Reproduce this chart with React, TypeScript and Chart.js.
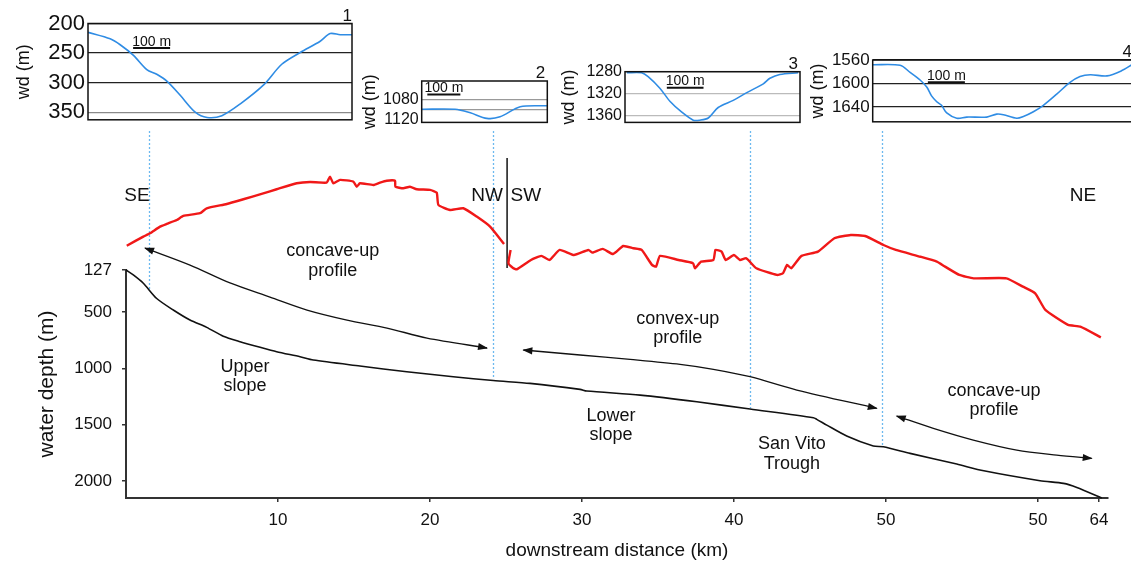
import React, { useEffect, useRef } from "react";
import { Chart, registerables } from "chart.js";
Chart.register(...registerables);

const FONT = "'Liberation Sans', Arial, Helvetica, sans-serif";
Chart.defaults.font.family = FONT;

// ---------- main long profile (km, water depth m) ----------
const profileKm = [0, 0.48, 1.14, 2.02, 3.11, 4.21, 5.31, 6.4, 7.5, 8.82, 9.91, 11.45, 12.32, 15.39, 18.47, 21.53, 24.16, 26.58, 29.87, 30.31, 33.82, 37.55, 41.05, 45.22, 45.44, 46.1, 47.41, 49.16, 49.82, 51.58, 54.65, 56.43, 60.13, 61.67, 62.55, 64.19];
const profileDepth = [127, 171, 245, 380, 482, 571, 636, 715, 763, 813, 852, 897, 926, 979, 1030, 1074, 1108, 1133, 1186, 1201, 1237, 1296, 1361, 1438, 1452, 1503, 1600, 1689, 1696, 1754, 1849, 1909, 1997, 2020, 2056, 2150];

// ---------- red planform line (relative units) ----------
const redNwKm = [0.05, 1.14, 1.58, 2.24, 2.68, 3.34, 3.77, 4.87, 5.31, 6.63, 7.72, 9.03, 9.91, 11.23, 12.11, 13.2, 13.42, 13.64, 14.08, 14.95, 15.18, 15.39, 16.27, 16.71, 17.15, 17.7, 17.72, 18.24, 18.68, 19.13, 20.0, 20.44, 20.55, 21.32, 22.19, 23.07, 23.95, 24.87];
const redNwVal = [58.4, 63.7, 65.7, 69.6, 71.2, 73.5, 75.9, 77.5, 80.4, 82.9, 85.7, 89.2, 91.6, 95.1, 95.9, 95.5, 99.0, 95.1, 97.1, 96.1, 93.1, 95.1, 94.1, 95.5, 96.6, 96.6, 93.1, 92.2, 93.1, 91.6, 91.2, 89.6, 82.4, 79.4, 80.4, 75.5, 69.6, 59.4];
const redSwKm = [25.3, 25.16, 25.46, 25.7, 26.64, 27.32, 27.86, 28.53, 29.47, 30.42, 30.69, 31.36, 32.04, 32.71, 33.38, 33.92, 34.6, 34.87, 35.13, 36.35, 37.3, 37.43, 37.83, 38.64, 38.78, 39.18, 39.45, 39.99, 40.39, 40.8, 41.47, 42.82, 43.22, 43.49, 43.76, 44.44, 45.52, 46.6, 47.68, 48.62, 49.83, 50.64, 52.26, 53.34, 53.88, 54.82, 55.76, 57.92, 59.0, 59.81, 60.48, 61.97, 62.78, 64.13];
const redSwVal = [55.9, 48.1, 45.3, 44.5, 50.0, 52.4, 50.0, 55.9, 52.9, 55.9, 54.3, 56.5, 53.5, 58.2, 56.9, 55.9, 47.1, 46.1, 52.4, 50.0, 48.1, 45.1, 49.0, 50.0, 55.9, 54.9, 50.0, 52.9, 50.0, 51.0, 45.1, 41.2, 42.2, 47.1, 45.1, 52.4, 54.9, 62.8, 64.7, 64.1, 58.8, 55.9, 51.9, 49.0, 46.1, 41.2, 39.2, 39.2, 34.3, 30.4, 20.6, 11.8, 10.8, 4.5];
const separatorKm = [25.07, 25.07];
const separatorVal = [110, 45.3];

// ---------- arrows (km, depth) ----------
const arrow1Km = [1.25, 4.21, 6.84, 9.47, 11.91, 14.54, 17.17, 19.8, 23.75];
const arrow1Depth = [-68, 83, 242, 367, 482, 571, 642, 731, 819];
const arrow2Km = [26.14, 29.87, 33.16, 36.45, 38.64, 41.05, 44.13, 49.39];
const arrow2Depth = [837, 881, 920, 964, 1008, 1074, 1192, 1355];
const arrow3Km = [50.7, 53.11, 55.74, 58.6, 61.23, 63.53];
const arrow3Depth = [1423, 1532, 1636, 1725, 1769, 1798];

// ---------- axis ticks ----------
const xTickValues = [10, 20, 30, 40, 50, 60, 64];
const xTickLabels = ["10", "20", "30", "40", "50", "50", "64"];
const yTickValues = [127, 500, 1000, 1500, 2000];

// ---------- cross-section locations ----------
const sectionKm = [1.5, 24.15, 41.05, 49.75];
const sectionDepth = [304, 1085, 1352, 1698];

// ---------- annotations ----------
const noteLines = [["concave-up", "profile"], ["Upper", "slope"], ["convex-up", "profile"], ["Lower", "slope"], ["San Vito", "Trough"], ["concave-up", "profile"]];
const noteKm = [13.6, 7.83, 36.3, 31.9, 43.8, 57.1];
const noteDepth = [47, 1072, 646, 1507, 1760, 1285];
const compassLabels = ["SE", "NW", "SW", "NE"];
const compassKm = [0.72, 23.75, 26.3, 62.96];
const compassVal = 88;

// ---------- insets: cross-channel profiles (m across, wd m) ----------
const ins1X = [0, 60, 87, 123, 159, 186, 214, 250, 290, 322, 362, 412, 475, 524, 574, 628, 655, 682, 714];
const ins1Wd = [215, 226, 236, 254, 278, 286, 298, 322, 350, 359, 356, 336, 304, 269, 249, 230, 217, 219, 219];
const ins1Ticks = [200, 250, 300, 350];
const ins1Labels = ["200", "250", "300", "350"];

const ins2X = [0, 101, 147, 197, 237, 298, 379];
const ins2Wd = [1099, 1099, 1106, 1117, 1114, 1094, 1092];
const ins2Ticks = [1080, 1100, 1120];
const ins2Labels = ["1080", "", "1120"];

const ins3X = [5, 45, 63, 95, 123, 154, 186, 204, 227, 254, 295, 332, 377, 395, 422, 472];
const ins3Wd = [1282, 1282, 1289, 1310, 1334, 1353, 1368, 1368, 1364, 1345, 1332, 1318, 1302, 1292, 1285, 1282];
const ins3Ticks = [1280, 1320, 1360];
const ins3Labels = ["1280", "1320", "1360"];

const ins4X = [0, 74, 101, 128, 146, 159, 173, 186, 200, 227, 254, 308, 335, 353, 389, 407, 434, 461, 497, 533, 560, 588, 633, 673, 700];
const ins4Wd = [1568, 1569, 1581, 1594, 1606, 1621, 1631, 1637, 1650, 1659, 1657, 1657, 1652, 1653, 1659, 1656, 1648, 1637, 1618, 1598, 1588, 1585, 1587, 1578, 1568];
const ins4Ticks = [1560, 1600, 1640];
const ins4Labels = ["1560", "1600", "1640"];

const BLUE = "#2F8CE4";
const BLUE_DOT = "#6DB9EF";
const RED = "#F01818";
const SECTION_TOP = 131;

const INSETS = [
  { x: 0, y: 0, w: 362, h: 136, area: [88, 23.5, 352, 128.5], xMax: 714, yMin: 200, yMax: 363, ticks: ins1Ticks, labels: ins1Labels, grid: ["#222", "#222", "#222", "#8a8a8a"], font: 22, titleX: 24, num: "1", numDx: 0, barStart: 122, barY: 48, xs: ins1X, ys: ins1Wd },
  { x: 340, y: 60, w: 215, h: 75, area: [421.7, 81, 547.3, 128.3], xMax: 380, yMin: 1043, yMax: 1125, ticks: ins2Ticks, labels: ins2Labels, grid: ["#999", "#999", "rgba(0,0,0,0)"], font: 16, titleX: 370, num: "2", numDx: -2, barStart: 17, barY: 94.5, xs: ins2X, ys: ins2Wd },
  { x: 540, y: 40, w: 270, h: 95, area: [625, 71.7, 800, 129.3], xMax: 477, yMin: 1280, yMax: 1372, ticks: ins3Ticks, labels: ins3Labels, grid: ["#bbb", "#bbb", "#bbb"], font: 16, titleX: 569, num: "3", numDx: -2, barStart: 114, barY: 87.7, xs: ins3X, ys: ins3Wd },
  { x: 800, y: 40, w: 345, h: 95, area: [872.7, 60, 1140, 129.3], xMax: 722, yMin: 1560, yMax: 1665, ticks: ins4Ticks, labels: ins4Labels, grid: ["#222", "#222", "#222"], font: 17, titleX: 818, num: "4", numDx: -8, barStart: 149, barY: 82.3, xs: ins4X, ys: ins4Wd },
];

function pts(xs: number[], ys: number[]) {
  return xs.map((x, i) => ({ x, y: ys[i] }));
}

function arrowHead(ctx: CanvasRenderingContext2D, from: any, to: any) {
  const a = Math.atan2(to.y - from.y, to.x - from.x);
  const L = 9, W = 3.6;
  const c = Math.cos(a), s = Math.sin(a);
  ctx.beginPath();
  ctx.moveTo(to.x + c * 1, to.y + s * 1);
  ctx.lineTo(to.x - L * c + W * s, to.y - L * s - W * c);
  ctx.lineTo(to.x - L * c - W * s, to.y - L * s + W * c);
  ctx.closePath();
  ctx.fill();
}

function Inset({ spec }: { spec: any }) {
  const ref = useRef<HTMLCanvasElement | null>(null);
  useEffect(() => {
    const s = spec;
    const aL = s.area[0] - s.x, aT = s.area[1] - s.y, aR = s.area[2] - s.x, aB = s.area[3] - s.y;
    const decor = {
      id: "insetDecor",
      afterDraw(chart: any) {
        const { ctx, chartArea: a, scales } = chart;
        ctx.save();
        ctx.strokeStyle = "#111";
        ctx.lineWidth = 1.5;
        ctx.strokeRect(a.left, a.top, a.right - a.left, a.bottom - a.top);
        ctx.fillStyle = "#111";
        ctx.font = `17px ${FONT}`;
        ctx.textAlign = "right";
        ctx.textBaseline = "alphabetic";
        ctx.fillText(s.num, a.right + s.numDx, a.top - 3);
        const x0 = scales.x.getPixelForValue(s.barStart);
        const x1 = scales.x.getPixelForValue(s.barStart + 100);
        const by = s.barY - s.y;
        ctx.lineWidth = 2;
        ctx.beginPath();
        ctx.moveTo(x0, by);
        ctx.lineTo(x1, by);
        ctx.stroke();
        ctx.font = `14px ${FONT}`;
        ctx.textAlign = "center";
        ctx.fillText("100 m", (x0 + x1) / 2, by - 2.5);
        ctx.restore();
      },
    };
    const chart = new Chart(ref.current as HTMLCanvasElement, {
      type: "line",
      data: {
        datasets: [
          { data: pts(s.xs, s.ys), borderColor: BLUE, borderWidth: 1.6, pointRadius: 0, tension: 0.3, fill: false } as any,
        ],
      },
      options: {
        animation: false,
        responsive: false,
        events: [],
        layout: { padding: { left: 0, top: aT, right: s.w - aR, bottom: s.h - aB } },
        plugins: { legend: { display: false }, tooltip: { enabled: false } },
        scales: {
          x: { type: "linear", display: false, min: 0, max: s.xMax },
          y: {
            type: "linear",
            reverse: true,
            min: s.yMin,
            max: s.yMax,
            afterBuildTicks: (sc: any) => {
              sc.ticks = s.ticks.map((v: number) => ({ value: v }));
            },
            afterFit: (sc: any) => {
              sc.width = aL;
            },
            ticks: {
              callback: (_v: any, i: number) => s.labels[i],
              font: { family: FONT, size: s.font },
              color: "#111",
              padding: 3,
            },
            grid: {
              drawTicks: false,
              color: (ctx: any) => s.grid[ctx.index] || "#999",
              lineWidth: 1.2,
            },
            border: { display: false },
            title: {
              display: true,
              text: "wd (m)",
              color: "#111",
              font: { family: FONT, size: 18 },
              padding: { top: s.titleX - s.x - 10.8, bottom: 0 },
            },
          },
        },
      } as any,
      plugins: [decor],
    });
    return () => chart.destroy();
  }, [spec]);
  return (
    <canvas
      ref={ref}
      width={spec.w}
      height={spec.h}
      style={{ position: "absolute", left: spec.x, top: spec.y, width: spec.w, height: spec.h }}
    />
  );
}

function MainChart() {
  const ref = useRef<HTMLCanvasElement | null>(null);
  useEffect(() => {
    const decor = {
      id: "mainDecor",
      beforeDatasetsDraw(chart: any) {
        const { ctx, scales } = chart;
        ctx.save();
        ctx.strokeStyle = BLUE_DOT;
        ctx.lineWidth = 1.3;
        ctx.setLineDash([2, 2]);
        sectionKm.forEach((km, i) => {
          const px = Math.round(scales.x.getPixelForValue(km)) + 0.5;
          ctx.beginPath();
          ctx.moveTo(px, SECTION_TOP);
          ctx.lineTo(px, scales.y.getPixelForValue(sectionDepth[i]));
          ctx.stroke();
        });
        ctx.restore();
      },
      afterDatasetsDraw(chart: any) {
        const { ctx, scales } = chart;
        ctx.save();
        ctx.fillStyle = "#111";
        chart.data.datasets.forEach((ds: any, i: number) => {
          if (!ds.isArrow) return;
          const p = chart.getDatasetMeta(i).data;
          const n = p.length;
          arrowHead(ctx, p[1], p[0]);
          arrowHead(ctx, p[n - 2], p[n - 1]);
        });
        ctx.font = `18px ${FONT}`;
        ctx.textAlign = "center";
        ctx.textBaseline = "middle";
        noteLines.forEach((lines, i) => {
          const cx = scales.x.getPixelForValue(noteKm[i]);
          const cy = scales.y.getPixelForValue(noteDepth[i]);
          lines.forEach((t, j) => {
            ctx.fillText(t, cx, cy + (j - (lines.length - 1) / 2) * 19.5);
          });
        });
        ctx.font = `19px ${FONT}`;
        compassLabels.forEach((t, i) => {
          ctx.fillText(t, scales.x.getPixelForValue(compassKm[i]), scales.yRed.getPixelForValue(compassVal));
        });
        ctx.restore();
      },
    };
    const lineDs = (data: any, color: string, width: number, axis: string, tension: number, extra: any = {}) => ({
      data,
      borderColor: color,
      borderWidth: width,
      pointRadius: 0,
      fill: false,
      tension,
      yAxisID: axis,
      clip: false,
      ...extra,
    });
    const chart = new Chart(ref.current as HTMLCanvasElement, {
      type: "line",
      data: {
        datasets: [
          lineDs(pts(profileKm, profileDepth), "#111", 1.6, "y", 0.25),
          lineDs(pts(arrow1Km, arrow1Depth), "#111", 1.3, "y", 0.3, { isArrow: true }),
          lineDs(pts(arrow2Km, arrow2Depth), "#111", 1.3, "y", 0.3, { isArrow: true }),
          lineDs(pts(arrow3Km, arrow3Depth), "#111", 1.3, "y", 0.3, { isArrow: true }),
          lineDs(pts(redNwKm, redNwVal), RED, 2.4, "yRed", 0.15),
          lineDs(pts(redSwKm, redSwVal), RED, 2.4, "yRed", 0.15),
          lineDs(pts(separatorKm, separatorVal), "#222", 1.6, "yRed", 0),
        ] as any,
      },
      options: {
        animation: false,
        responsive: false,
        events: [],
        layout: { padding: { left: 10, top: 270, right: 23, bottom: 0 } },
        plugins: { legend: { display: false }, tooltip: { enabled: false } },
        scales: {
          x: {
            type: "linear",
            min: 0,
            max: 64.6,
            afterBuildTicks: (sc: any) => {
              sc.ticks = xTickValues.map((v) => ({ value: v }));
            },
            afterFit: (sc: any) => {
              sc.height = 67;
            },
            ticks: {
              callback: (_v: any, i: number) => xTickLabels[i],
              font: { family: FONT, size: 17 },
              color: "#111",
              padding: 8,
              autoSkip: false,
              maxRotation: 0,
            },
            grid: { drawOnChartArea: false, drawTicks: true, tickLength: 4, color: "#333", lineWidth: 1.5 },
            border: { color: "#333", width: 2 },
            title: {
              display: true,
              text: "downstream distance (km)",
              color: "#111",
              font: { family: FONT, size: 19 },
              padding: { top: 0, bottom: 3 },
            },
          },
          y: {
            type: "linear",
            reverse: true,
            min: 127,
            max: 2150,
            afterBuildTicks: (sc: any) => {
              sc.ticks = yTickValues.map((v) => ({ value: v }));
            },
            afterFit: (sc: any) => {
              sc.width = 116;
            },
            ticks: {
              callback: (v: any) => String(v),
              font: { family: FONT, size: 17 },
              color: "#111",
              padding: 10,
            },
            grid: { drawOnChartArea: false, drawTicks: true, tickLength: 4, color: "#333", lineWidth: 1.5 },
            border: { color: "#333", width: 2 },
            title: {
              display: true,
              text: "water depth (m)",
              color: "#111",
              font: { family: FONT, size: 21 },
              padding: { top: 25, bottom: 0 },
            },
          },
          yRed: { type: "linear", display: false, min: -90, max: 44.1 },
        },
      } as any,
      plugins: [decor],
    });
    return () => chart.destroy();
  }, []);
  return <canvas ref={ref} width={1131} height={565} style={{ position: "absolute", left: 0, top: 0, width: 1131, height: 565 }} />;
}

export default function App() {
  return (
    <div style={{ position: "absolute", left: 0, top: 0, width: 1131, height: 565, overflow: "hidden", background: "#fff" }}>
      <MainChart />
      {INSETS.map((s, i) => (
        <Inset key={i} spec={s} />
      ))}
    </div>
  );
}
